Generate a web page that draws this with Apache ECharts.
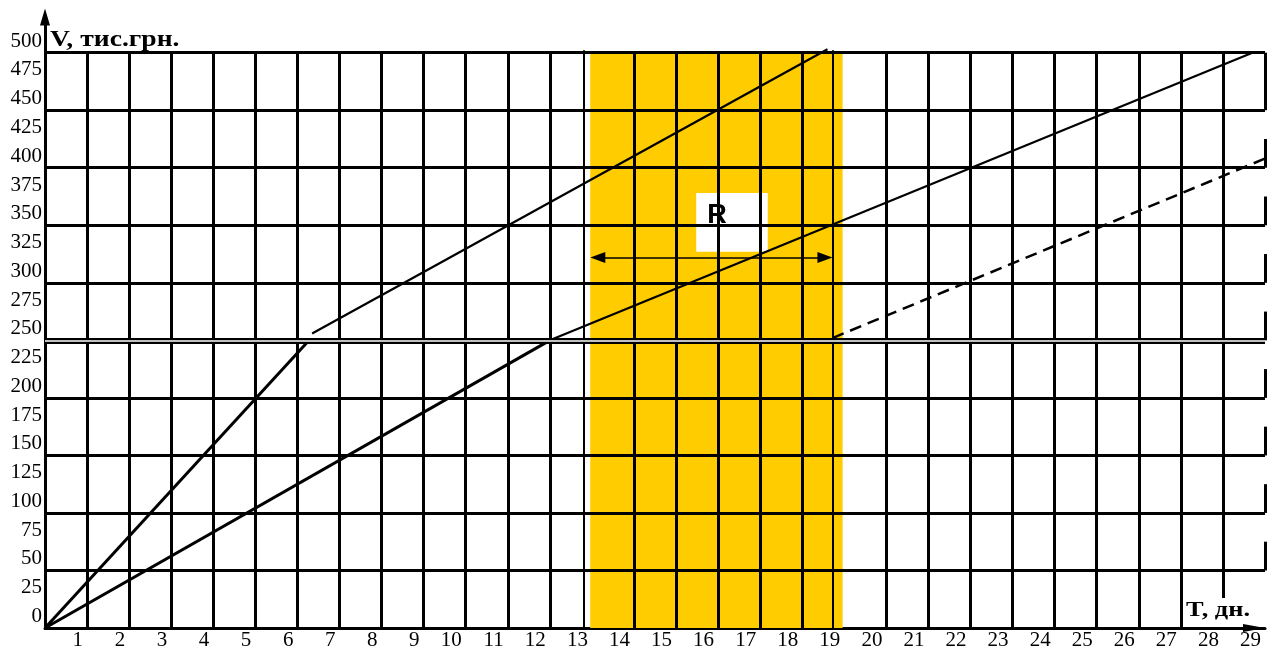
<!DOCTYPE html>
<html>
<head>
<meta charset="utf-8">
<script src="https://cdn.jsdelivr.net/npm/echarts@6/dist/echarts.min.js"></script>
<style>html,body{margin:0;padding:0;background:#fff}#chart{width:1273px;height:653px}</style>
</head>
<body>
<div id="chart"></div>
<script>
var gridX = [1,2,3,4,5,6,7,8,9,10,11,12,14,15,16,17,18,20,21,22,23,24,25,26,27];
var gridXThin = [12.8, 18.72];
var gridX28 = [28, 26];           // day 28 line stops above the "T, дн." label
var gridY = [50,100,150,200,300,350,400,450,500];
var doubleY = 250;
var rightEdge = [[450,500],[400,425],[350,375],[300,325],[250,275],[200,225],[150,175],[100,125],[50,75]];
var band = [12.96, 18.96];
var boxR = [[15.48,327],[17.18,378]];
var arrowR = [[13.14,322],[18.54,322]];
var lineA1 = [[0,0],[6.3,251]];
var lineA2 = [[6.35,256],[18.6,503]];
var lineB1 = [[0,0],[12,250]];
var lineB2 = [[12,250],[28.7,500]];
var lineB3 = [[18.72,252],[29,408]];

var chart = echarts.init(document.getElementById('chart'));
var black = '#000';
var font = 'Liberation Serif';

function seg(x1,y1,x2,y2,w,c){
    return [{coord:[x1,y1], lineStyle:{width:w, color:c||black, type:'solid'}},{coord:[x2,y2]}];
}
var gridLines = [];
for(var i=0;i<gridX.length;i++){
    gridLines.push(seg(gridX[i],0,gridX[i],500,3));
}
for(var i=0;i<gridXThin.length;i++){
    gridLines.push(seg(gridXThin[i],0,gridXThin[i],502,2));
}
gridLines.push(seg(gridX28[0],gridX28[1],gridX28[0],500,3));
for(var i=0;i<rightEdge.length;i++){
    gridLines.push(seg(29,rightEdge[i][0],29,rightEdge[i][1],3));
}
for(var i=0;i<gridY.length;i++){
    gridLines.push(seg(0,gridY[i],29,gridY[i],3));
}
gridLines.push(seg(0,doubleY,29,doubleY,6));
gridLines.push(seg(0,doubleY,29,doubleY,1.5,'#fff'));

function lineSeries(data, w, type){
    return {
        type:'line', data:data, symbol:'none', z:4, silent:true,
        lineStyle:{color:black, width:w, type:type||'solid'}
    };
}

var option = {
    animation:false,
    grid:{left:45, right:8, top:17, bottom:25},
    xAxis:{
        type:'value', min:0, max:29, interval:1,
        axisLine:{show:true, onZero:false, symbol:['none','triangle'], symbolSize:[8,22], symbolOffset:[0,-11],
            lineStyle:{color:black, width:3}},
        axisTick:{show:false},
        splitLine:{show:false},
        axisLabel:{
            color:black, fontFamily:font, fontSize:21, margin:2, align:'right', padding:[0,4,0,0],
            showMinLabel:true, showMaxLabel:true,
            formatter:function(v){ return v === 0 ? '' : String(v); }
        }
    },
    yAxis:{
        type:'value', min:0, max:531, interval:25,
        axisLine:{show:true, symbol:['none','triangle'], symbolSize:[10,17],
            lineStyle:{color:black, width:3}},
        axisTick:{show:false},
        splitLine:{show:false},
        axisLabel:{
            color:black, fontFamily:font, fontSize:21, margin:3, verticalAlign:'bottom', padding:[0,0,1,0],
            formatter:function(v){ return v > 500 ? '' : String(v); }
        }
    },
    graphic:[
        {type:'text', left:50, top:29, scaleX:1.2, style:{text:'V, тис.грн.', font:'bold 23px "Liberation Serif"', fill:black}},
        {type:'text', left:1186, top:599, scaleX:1.2, style:{text:'T, дн.', font:'bold 22px "Liberation Serif"', fill:black}}
    ],
    series:[
        {
            type:'line', data:[], z:1, silent:true,
            markArea:{silent:true, itemStyle:{color:'#FFCC00'},
                data:[[{coord:[band[0],0]},{coord:[band[1],500]}]]}
        },
        {
            type:'line', data:[], z:2, silent:true,
            markLine:{silent:true, symbol:['none','none'], label:{show:false}, animation:false,
                data:gridLines}
        },
        {
            type:'line', data:[], z:3, silent:true,
            markArea:{silent:true, itemStyle:{color:'#fff'},
                label:{show:true, position:[11,9], formatter:'R', color:black,
                    fontFamily:'Liberation Sans', fontWeight:'bold', fontSize:27},
                data:[[{coord:boxR[0]},{coord:boxR[1]}]]}
        },
        lineSeries(lineA1, 3),
        lineSeries(lineA2, 2.2),
        lineSeries(lineB1, 3),
        lineSeries(lineB2, 2.2),
        lineSeries(lineB3, 2.5, [12,7]),
        {
            type:'line', data:[], z:5, silent:true,
            markLine:{silent:true, symbol:['triangle','triangle'], symbolSize:[11,15], label:{show:false},
                lineStyle:{color:black, width:1.5, type:'solid'},
                data:[[{coord:arrowR[0]},{coord:arrowR[1]}]]}
        }
    ]
};
chart.setOption(option);
</script>
</body>
</html>
